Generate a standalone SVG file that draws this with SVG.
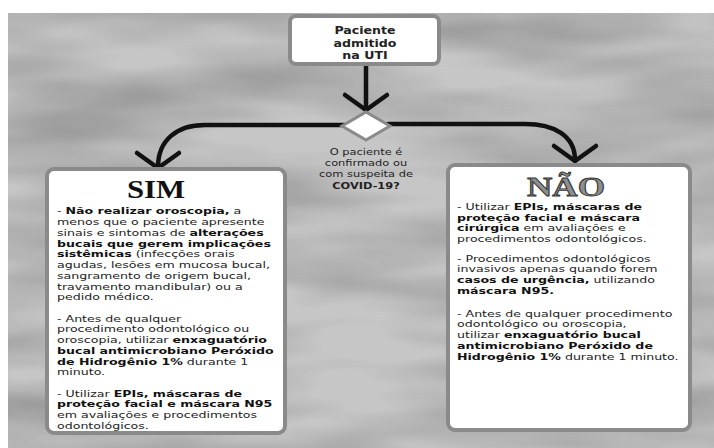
<svg xmlns="http://www.w3.org/2000/svg" width="714" height="448" viewBox="0 0 714 448">
<style>
.box{fill:#ffffff;stroke:#8a8a8a;stroke-width:4}
.conn{fill:none;stroke:#111;stroke-width:4.5;stroke-linecap:round;stroke-linejoin:round}
.t{font-family:"DejaVu Sans","Liberation Sans",sans-serif;font-size:9.2px;fill:#222}
.b{font-weight:bold;fill:#111}
.top{font-family:"DejaVu Sans","Liberation Sans",sans-serif;font-size:10.5px;font-weight:bold;fill:#222}
.q{font-family:"DejaVu Sans","Liberation Sans",sans-serif;font-size:9.2px;fill:#222}
.title{font-family:"Liberation Serif","DejaVu Serif",serif;font-weight:bold}
</style>
<defs>
<marker id="chev" markerUnits="userSpaceOnUse" viewBox="-20 -26 30 52" markerWidth="30" markerHeight="52" refX="0" refY="0" orient="auto" overflow="visible">
<path d="M -14 -21 L 1 0 L -14 21" fill="none" stroke="#111" stroke-width="4.5" stroke-linecap="round" stroke-linejoin="miter"/>
</marker>
<filter id="tex" x="0" y="0" width="100%" height="100%">
<feTurbulence type="fractalNoise" baseFrequency="0.004 0.018" numOctaves="3" seed="7" result="n"/>
<feColorMatrix in="n" type="matrix" values="0 0 0 0 0  0 0 0 0 0  0 0 0 0 0  1.6 0 0 0 -0.55"/>
</filter>
</defs>
<rect x="0" y="0" width="714" height="448" fill="#ffffff"/>
<rect x="8" y="13" width="706" height="435" fill="#c6c6c6"/>
<rect x="8" y="13" width="706" height="435" fill="#000" opacity="0.3" filter="url(#tex)"/>

<g id="connectors">
<path class="conn" d="M 366 64 L 366 109" marker-end="url(#chev)"/>
<path class="conn" d="M 345 125 L 205 125 C 177 125 158 140 158 167" marker-end="url(#chev)"/>
<path class="conn" d="M 388 124 L 525 124 C 553 124 575 135 575 160" marker-end="url(#chev)"/>
</g>

<g id="start">
<rect class="box" x="290" y="16" width="149" height="48" rx="6"/>
<g transform="translate(365 0) scale(1.2 1)">
<text class="top" x="0" y="34" text-anchor="middle">Paciente</text>
<text class="top" x="0" y="47" text-anchor="middle">admitido</text>
<text class="top" x="0" y="59" text-anchor="middle">na UTI</text>
</g>
</g>

<g id="decision">
<polygon points="366,112 390,126 366,140 342,126" fill="#fff" stroke="#8a8a8a" stroke-width="3"/>
<g transform="translate(366 0) scale(1.24 1)">
<text class="q" x="0" y="155.2" text-anchor="middle">O paciente é</text>
<text class="q" x="0" y="166.5" text-anchor="middle">confirmado ou</text>
<text class="q" x="0" y="177.5" text-anchor="middle">com suspeita de</text>
<text class="q b" x="0" y="189" text-anchor="middle">COVID-19?</text>
</g>
</g>

<g id="sim">
<rect class="box" x="47" y="169" width="238" height="264" rx="7"/>
<g transform="translate(156 0) scale(1.23 1)">
<text class="title" x="0" y="198" font-size="25" text-anchor="middle" fill="#111">SIM</text>
</g>
<g transform="translate(57 0) scale(1.37 1)">
<text class="t" x="0" y="214.5">- <tspan class="b">Não realizar oroscopia,</tspan> a</text>
<text class="t" x="0" y="225.3">menos que o paciente apresente</text>
<text class="t" x="0" y="236">sinais e sintomas de <tspan class="b">alterações</tspan></text>
<text class="t b" x="0" y="246.8">bucais que gerem implicações</text>
<text class="t" x="0" y="257.5"><tspan class="b">sistêmicas</tspan> (infecções orais</text>
<text class="t" x="0" y="268.3">agudas, lesões em mucosa bucal,</text>
<text class="t" x="0" y="279">sangramento de origem bucal,</text>
<text class="t" x="0" y="289.8">travamento mandibular) ou a</text>
<text class="t" x="0" y="300.5">pedido médico.</text>
<text class="t" x="0" y="321.8">- Antes de qualquer</text>
<text class="t" x="0" y="332.5">procedimento odontológico ou</text>
<text class="t" x="0" y="343.3">oroscopia, utilizar <tspan class="b">enxaguatório</tspan></text>
<text class="t b" x="0" y="354">bucal antimicrobiano Peróxido</text>
<text class="t" x="0" y="364.8"><tspan class="b">de Hidrogênio 1%</tspan> durante 1</text>
<text class="t" x="0" y="375.5">minuto.</text>
<text class="t" x="0" y="396.8">- Utilizar <tspan class="b">EPIs, máscaras de</tspan></text>
<text class="t b" x="0" y="407.5">proteção facial e máscara N95</text>
<text class="t" x="0" y="418.3">em avaliações e procedimentos</text>
<text class="t" x="0" y="429">odontológicos.</text>
</g>
</g>

<g id="nao">
<rect class="box" x="448" y="165" width="242" height="265" rx="7"/>
<g transform="translate(566 0) scale(1.3 1)">
<text class="title" x="0" y="196" font-size="27" text-anchor="middle" fill="#8e8e8e" stroke="#333" stroke-width="0.9">NÃO</text>
</g>
<g transform="translate(457 0) scale(1.37 1)">
<text class="t" x="0" y="210.5">- Utilizar <tspan class="b">EPIs, máscaras de</tspan></text>
<text class="t b" x="0" y="221">proteção facial e máscara</text>
<text class="t" x="0" y="231.5"><tspan class="b">cirúrgica</tspan> em avaliações e</text>
<text class="t" x="0" y="242">procedimentos odontológicos.</text>
<text class="t" x="0" y="261.8">- Procedimentos odontológicos</text>
<text class="t" x="0" y="272.5">invasivos apenas quando forem</text>
<text class="t" x="0" y="283.2"><tspan class="b">casos de urgência,</tspan> utilizando</text>
<text class="t b" x="0" y="294">máscara N95.</text>
<text class="t" x="0" y="316.8">- Antes de qualquer procedimento</text>
<text class="t" x="0" y="327.5">odontológico ou oroscopia,</text>
<text class="t" x="0" y="338.2">utilizar <tspan class="b">enxaguatório bucal</tspan></text>
<text class="t b" x="0" y="348.9">antimicrobiano Peróxido de</text>
<text class="t" x="0" y="359.6"><tspan class="b">Hidrogênio 1%</tspan> durante 1 minuto.</text>
</g>
</g>
</svg>
